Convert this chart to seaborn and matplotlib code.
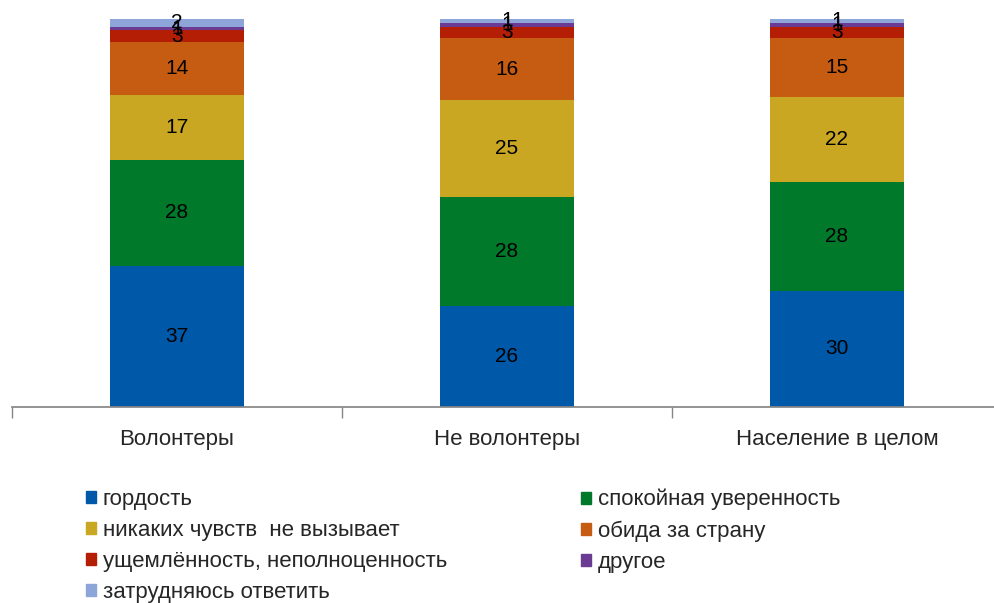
import numpy as np
import pandas as pd
import matplotlib
matplotlib.use("Agg")
import matplotlib.pyplot as plt
import seaborn as sns
from matplotlib.patches import Patch

# --- data ---
categories = ["Волонтеры", "Не волонтеры", "Население в целом"]
series_names = [
    "гордость",
    "спокойная уверенность",
    "никаких чувств  не вызывает",
    "обида за страну",
    "ущемлённость, неполноценность",
    "другое",
    "затрудняюсь ответить",
]
pride = [37, 26, 30]
calm = [28, 28, 28]
no_feelings = [17, 25, 22]
offense = [14, 16, 15]
infringed = [3, 3, 3]
other = [1, 1, 1]
hard_to_say = [2, 1, 1]

colors = ["#0058A8", "#00792B", "#C9A722", "#C65B12", "#B31E05", "#6B3A92", "#8EA5D9"]

sns.set_theme(style="white")
plt.rcParams["font.family"] = ["Liberation Sans", "DejaVu Sans"]

values = np.array([pride, calm, no_feelings, offense, infringed, other, hard_to_say], dtype=float)
pct = values / values.sum(axis=0) * 100  # 100% stacked
cum = np.cumsum(pct, axis=0)

fig = plt.figure(figsize=(9.94, 6.03), dpi=100)
ax = fig.add_axes([12 / 994, (603 - 407) / 603, 990 / 994, 388 / 603])

# draw cumulative bars from the top down so each layer shows its own slice
for i in reversed(range(len(series_names))):
    df = pd.DataFrame({"cat": categories, "val": cum[i]})
    sns.barplot(data=df, x="cat", y="val", color=colors[i], saturation=1,
                width=0.405, errorbar=None, ax=ax, linewidth=0)

# value labels
for i in range(len(series_names)):
    for j in range(len(categories)):
        mid = cum[i, j] - pct[i, j] / 2
        ax.text(j, mid, f"{int(values[i, j])}", ha="center", va="center",
                fontsize=15, color="black")

ax.set_xlim(-0.5, 2.5)
ax.set_ylim(0, 100)
ax.set_xlabel("")
ax.set_ylabel("")
ax.set_yticks([])
for s in ["top", "right", "left"]:
    ax.spines[s].set_visible(False)
ax.spines["bottom"].set_color("#868686")
ax.set_xticks([0, 1, 2])
ax.set_xticklabels(categories, fontsize=16)
ax.set_xticks([-0.5, 0.5, 1.5, 2.5], minor=True)
ax.tick_params(axis="x", which="major", bottom=False, length=0, pad=16)
ax.tick_params(axis="x", which="minor", bottom=True, length=8, width=1,
               color="#868686", direction="out")

# legend in two columns
left_idx = [0, 2, 4, 6]
right_idx = [1, 3, 5]
common = dict(frameon=False, fontsize=16, handlelength=0.45, handleheight=0.45,
              handletextpad=0.3, labelspacing=0.45, borderaxespad=0, borderpad=0)
leg1 = fig.legend([Patch(color=colors[k]) for k in left_idx],
                  [series_names[k] for k in left_idx],
                  loc="upper left", bbox_to_anchor=(86 / 994, 1 - 489 / 603), **common)
leg2 = fig.legend([Patch(color=colors[k]) for k in right_idx],
                  [series_names[k] for k in right_idx],
                  loc="upper left", bbox_to_anchor=(581 / 994, 1 - 489 / 603), **common)

fig.savefig("out.png", dpi=100)
